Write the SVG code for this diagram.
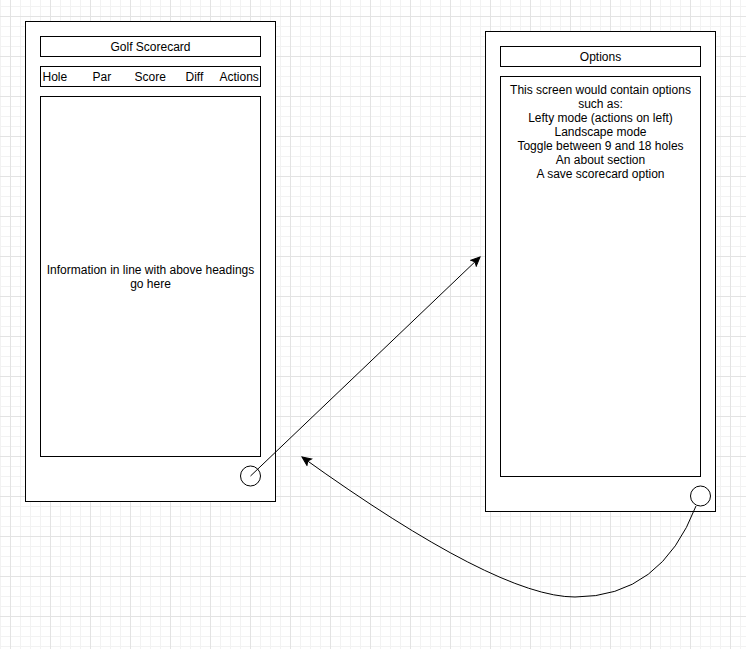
<svg xmlns="http://www.w3.org/2000/svg" width="746" height="649" viewBox="0 0 746 649">
<style>
.box{fill:#fff;stroke:#000;stroke-width:1}
.t{font-family:"Liberation Sans",Arial,Helvetica,sans-serif;font-size:12px;fill:#000}
.c{text-anchor:middle}
.edge{fill:none;stroke:#000;stroke-width:1}
</style>
<defs>
<pattern id="minor" x="0" y="6" width="10" height="10" patternUnits="userSpaceOnUse">
<path d="M0.5,0V10M0,0.5H10" fill="none" stroke="#f2f2f2" stroke-width="1"/>
</pattern>
<pattern id="major" x="10" y="16" width="40" height="40" patternUnits="userSpaceOnUse">
<path d="M0.5,0V40M0,0.5H40" fill="none" stroke="#e3e3e3" stroke-width="1"/>
</pattern>
<marker id="arr" viewBox="-10 -5 12 10" refX="0" refY="0" markerWidth="12" markerHeight="10" markerUnits="userSpaceOnUse" orient="auto">
<path d="M0,0L-9,-4L-7,0L-9,4Z" fill="#000" stroke="#000" stroke-width="1" stroke-linejoin="miter"/>
</marker>
</defs>
<rect width="746" height="649" fill="#fff"/>
<rect width="746" height="649" fill="url(#minor)"/>
<rect width="746" height="649" fill="url(#major)"/>

<g id="scorecard-phone">
<rect class="box" x="25.5" y="21.5" width="250" height="480"/>
</g>
<g id="scorecard-title">
<rect class="box" x="40.5" y="36.5" width="220" height="20"/>
<text class="t c" x="150.5" y="50.5">Golf Scorecard</text>
</g>
<g id="scorecard-headings">
<rect class="box" x="40.5" y="66.5" width="220" height="20"/>
<text class="t" x="42.5" y="80.5">Hole</text>
<text class="t" x="92.5" y="80.5">Par</text>
<text class="t" x="134.5" y="80.5">Score</text>
<text class="t" x="185.5" y="80.5">Diff</text>
<text class="t" x="219.5" y="80.5">Actions</text>
</g>
<g id="scorecard-body">
<rect class="box" x="40.5" y="96.5" width="220" height="360"/>
<text class="t c" x="150.5" y="274"><tspan x="150.5">Information in line with above headings</tspan><tspan x="150.5" dy="14">go here</tspan></text>
</g>
<g id="scorecard-button">
<circle class="box" cx="250.5" cy="476" r="10"/>
</g>

<g id="options-phone">
<rect class="box" x="485.5" y="31.5" width="230" height="480"/>
</g>
<g id="options-title">
<rect class="box" x="500.5" y="46.5" width="200" height="20"/>
<text class="t c" x="600.5" y="60.5">Options</text>
</g>
<g id="options-body">
<rect class="box" x="500.5" y="76.5" width="200" height="400"/>
<text class="t c" x="600.5" y="93.5"><tspan x="600.5">This screen would contain options</tspan><tspan x="600.5" dy="14">such as:</tspan><tspan x="600.5" dy="14">Lefty mode (actions on left)</tspan><tspan x="600.5" dy="14">Landscape mode</tspan><tspan x="600.5" dy="14">Toggle between 9 and 18 holes</tspan><tspan x="600.5" dy="14">An about section</tspan><tspan x="600.5" dy="14">A save scorecard option</tspan></text>
</g>
<g id="options-button">
<circle class="box" cx="700.5" cy="496" r="10"/>
</g>

<g id="connectors">
<path class="edge" d="M250.5,476L480,257" marker-end="url(#arr)"/>
<path class="edge" d="M696,506Q661,597 575,597Q497,597 302,457" marker-end="url(#arr)"/>
</g>
</svg>
